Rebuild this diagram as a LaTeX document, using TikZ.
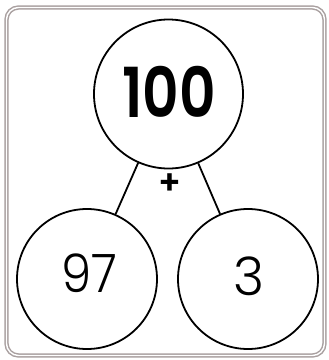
\documentclass[tikz,border=0pt]{standalone}
\usepackage{fontspec}
\setmainfont{Poppins}
\newfontfamily\semifont{Poppins SemiBold}
\newfontfamily\lightfont{Poppins Light}
\usetikzlibrary{positioning}
\definecolor{cframe}{HTML}{A9A0A0}
\tikzset{
  every picture/.style={line width=1.8pt},
  bubble/.style={draw, circle, inner sep=0pt, minimum size=#1},
  link/.style={draw, line width=1.8pt},
  bignum/.style={font=\fontsize{69}{69}\semifont, inner sep=0pt},
  num/.style={font=\fontsize{53}{53}\lightfont, inner sep=0pt},
  plus/.style={font=\fontsize{34}{34}\semifont, inner sep=0pt},
}
\newcommand{\narrow}[2]{\scalebox{#1}[1]{#2}}

\begin{document}
\begin{tikzpicture}[x=1pt, y=-1pt]
  \useasboundingbox (0,0) rectangle (329,360);
  % frame with a thin double grey line
  \draw[cframe, line width=1.5pt, double=white, double distance=1.4pt, rounded corners=12pt]
    (6.5,7.5) rectangle (324.5,355.5);
  \node[bubble=149pt] (whole) at (168.5,94) {};
  \node[bubble=140pt] (partA) at (87,279) {};
  \node[bubble=140pt] (partB) at (248,279) {};
  \draw[link] (whole) -- (partA);
  \draw[link] (whole) -- (partB);
  \node[bignum] (wholeval) at (169,92) {\narrow{0.82}{100}};
  \node[num] (partAval) at (89,273.5) {\narrow{0.91}{97}};
  \node[num] (partBval) at (249.5,276.5) {3};
  \node[plus] (op) at (170,184.5) {+};
\end{tikzpicture}
\end{document}
